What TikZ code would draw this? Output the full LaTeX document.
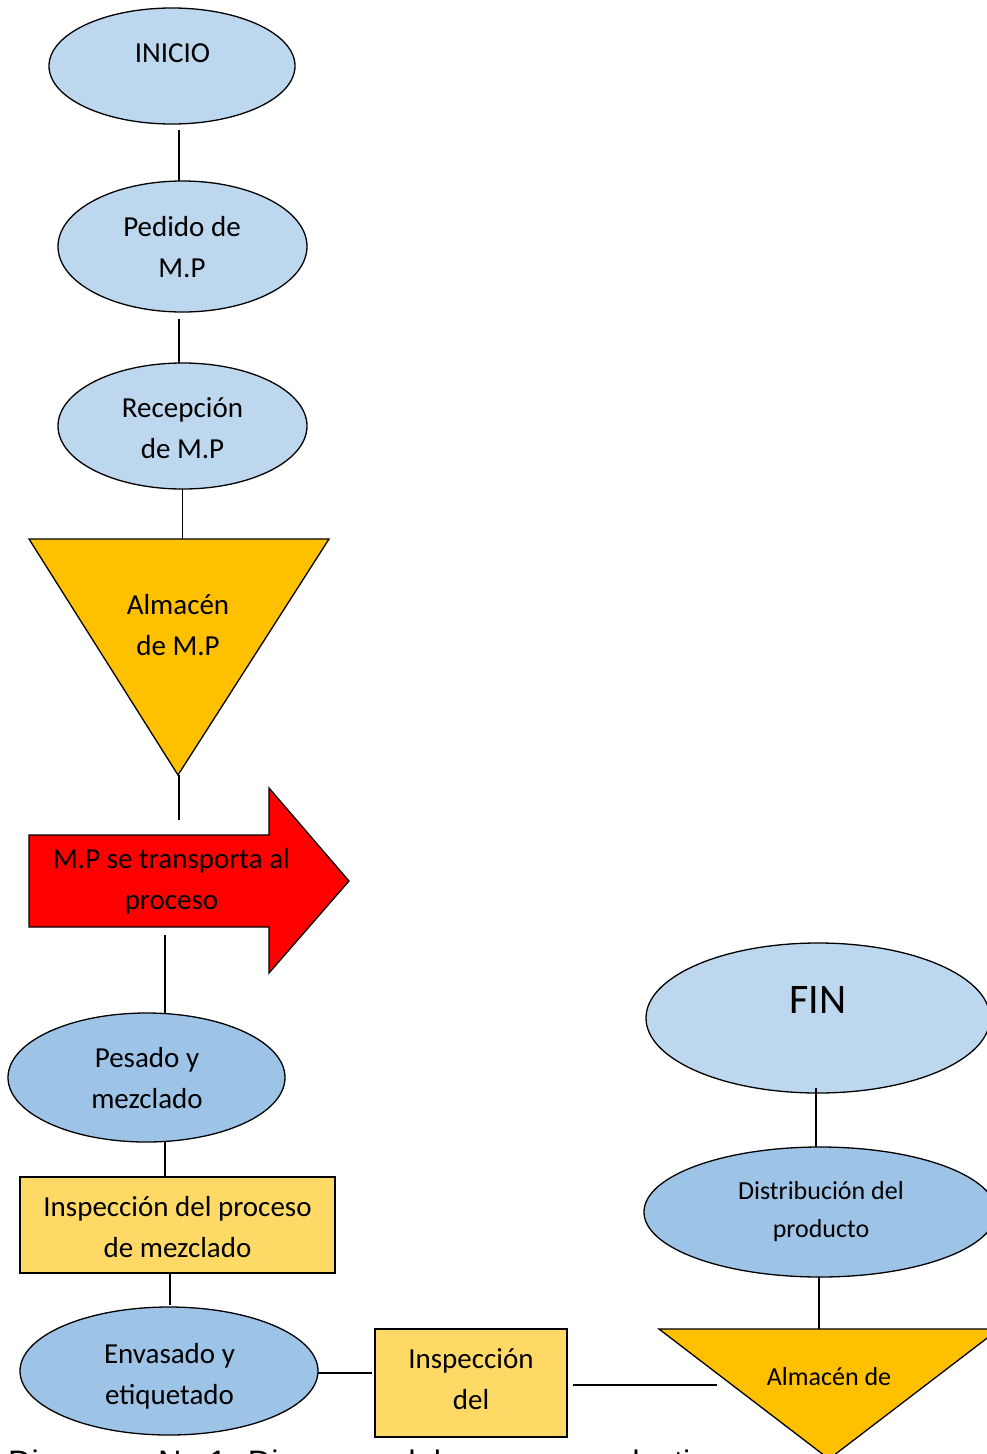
\documentclass[tikz,border=0pt]{standalone}
\usepackage{fontspec}
\usetikzlibrary{shapes.geometric}
\setmainfont{Carlito}
\newfontfamily\capfont{Liberation Sans}
\definecolor{lightblue}{HTML}{BDD7EE}
\definecolor{midblue}{HTML}{9DC3E6}
\definecolor{storegold}{HTML}{FFC000}
\definecolor{checkyellow}{HTML}{FFD966}
\definecolor{moved}{HTML}{FF0000}
\begin{document}
\begin{tikzpicture}[x=1pt,y=-1pt,
  bubble/.style={ellipse, draw=black, line width=1.3pt, inner sep=0pt, outer sep=0pt},
  checkbox/.style={rectangle, draw=black, line width=1.3pt, fill=checkyellow, inner sep=0pt, outer sep=0pt},
  outl/.style={draw=black, line width=1.3pt, line join=miter},
  conn/.style={draw=black, line width=1.9pt},
  lbl/.style={font=\fontsize{29}{41}\selectfont, align=center, inner sep=0pt},
  smalllbl/.style={font=\fontsize{26}{38}\selectfont, align=center, inner sep=0pt},
  biglbl/.style={font=\fontsize{42}{50}\selectfont, align=center, inner sep=0pt}]

\useasboundingbox (0,0) rectangle (987,1454);
\clip (0,0) rectangle (987,1454);
\fill[white] (0,0) rectangle (987,1454);

% ---- left column: reception of raw material ----
\node[bubble, fill=lightblue, minimum width=246, minimum height=116] (ini) at (172,66) {};
\node[lbl] (t-ini) at (172.5,53.8) {\strut INICIO};

\node[bubble, fill=lightblue, minimum width=249, minimum height=131] (ped) at (182.5,246.5) {};
\node[lbl] (t-ped) at (182,248.3) {\strut Pedido de\\\strut M.P};

\node[bubble, fill=lightblue, minimum width=249, minimum height=126] (rec) at (182.5,426) {};
\node[lbl] (t-rec) at (182.5,429.3) {\strut Recepción\\\strut de M.P};

% storage triangle
\coordinate (a1l) at (29,539);
\coordinate (a1r) at (329,539);
\coordinate (a1tip) at (178,775);
\coordinate (a1top) at (182.5,539);
\path[outl, fill=storegold] (a1l) -- (a1r) -- (a1tip) -- cycle;
\node[lbl] (t-alm1) at (178,626.3) {\strut Almacén\\\strut de M.P};

% transport arrow
\coordinate (tr-in) at (179,820);
\coordinate (tr-out) at (165,935);
\path[outl, fill=moved] (29,835) -- (269,835) -- (269,788) -- (349,881)
  -- (269,973) -- (269,927) -- (29,927) -- cycle;
\node[lbl] (t-tr) at (171.5,880.3) {\strut M.P se transporta al\\\strut proceso};

\node[bubble, fill=midblue, minimum width=277, minimum height=129] (pes) at (146.5,1077.5) {};
\node[lbl] (t-pes) at (147,1079.3) {\strut Pesado y\\\strut mezclado};

\node[checkbox, minimum width=315, minimum height=96] (insp1) at (177.5,1225) {};
\node[lbl] (t-insp1) at (177.5,1228.8) {\strut Inspección del proceso\\\strut de mezclado};

\node[bubble, fill=midblue, minimum width=298, minimum height=128] (env) at (169,1371) {};
\node[lbl] (t-env) at (169.5,1375.3) {\strut Envasado y\\\strut etiquetado};

\node[checkbox, minimum width=192, minimum height=108] (insp2) at (471,1383) {};
\node[lbl] (t-insp2) at (471,1380.3) {\strut Inspección\\\strut del};

% ---- right column: finished product ----
\coordinate (a2in) at (717,1385);
\coordinate (a2top) at (819,1329);
\path[outl, fill=storegold] (659,1329) -- (999,1329) -- (829,1459) -- cycle;
\node[smalllbl] (t-alm2) at (829,1377.4) {\strut Almacén de};

\node[bubble, fill=midblue, minimum width=352, minimum height=130] (dis) at (820,1212) {};
\node[smalllbl] (t-dis) at (821,1210.4) {\strut Distribución del\\\strut producto};

\node[bubble, fill=lightblue, minimum width=344, minimum height=150] (fin) at (818,1018) {};
\node[biglbl] (t-fin) at (818,1003) {\strut FIN};

% ---- connectors ----
\draw[conn] ([shift={(7,6)}]ini.south) -- ([xshift=-3.5]ped.north);
\draw[conn] ([shift={(-3.5,7)}]ped.south) -- ([xshift=-3.5]rec.north);
\draw[conn] (rec.south) -- (a1top);
\draw[conn] ([xshift=1]a1tip) -- (tr-in);
\draw[conn] (tr-out) -- ([xshift=18.5]pes.north);
\draw[conn] ([xshift=18.5]pes.south) -- ([xshift=-12.5]insp1.north);
\draw[conn] ([xshift=-7.5]insp1.south) -- ([shift={(1,-2)}]env.north);
\draw[conn] ([shift={(0,2)}]env.east) -- ([shift={(-3,-10)}]insp2.west);
\draw[conn] ([shift={(6,2)}]insp2.east) -- (a2in);
\draw[conn] ([xshift=-1]dis.south) -- (a2top);
\draw[conn] ([shift={(-2,-5)}]fin.south) -- ([xshift=-4]dis.north);

% ---- caption, running off the lower edge ----
\node[anchor=base west, inner sep=0pt, font=\capfont\fontsize{32.5}{38}\selectfont] (cap) at (8,1473)
  {Diagrama No 1: Diagrama del proceso productivo};
\end{tikzpicture}
\end{document}
